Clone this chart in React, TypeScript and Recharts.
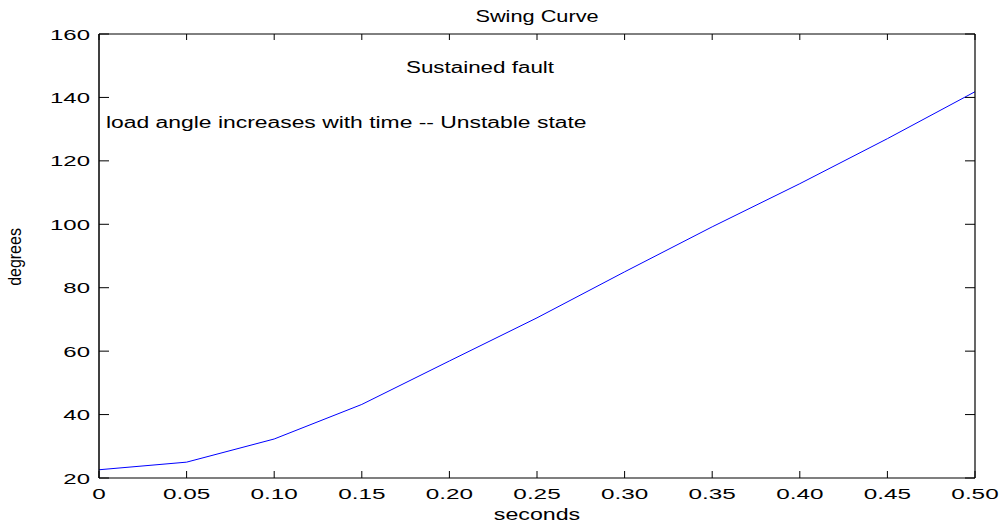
import React from 'react';
import { LineChart, Line, XAxis, YAxis } from 'recharts';

// time (s) and load angle (deg)
const seconds = [0, 0.05, 0.1, 0.15, 0.2, 0.25, 0.3, 0.35, 0.4, 0.45, 0.5];
const degrees = [22.6, 25.0, 32.3, 43.2, 56.9, 70.5, 85.0, 99.2, 112.8, 127.0, 141.8];

const xTicks = [0, 0.05, 0.1, 0.15, 0.2, 0.25, 0.3, 0.35, 0.4, 0.45, 0.5];
const xTickLabels = ['0', '0.05', '0.10', '0.15', '0.20', '0.25', '0.30', '0.35', '0.40', '0.45', '0.50'];
const yTicks = [20, 40, 60, 80, 100, 120, 140, 160];

const data = seconds.map((t, i) => ({ t, deg: degrees[i] }));

const FONT = '"Liberation Sans", Arial, Helvetica, sans-serif';

const xLabel = (v: number) => {
  const i = xTicks.indexOf(v);
  return i >= 0 ? xTickLabels[i] : String(v);
};

const BottomTick = (props: any) => {
  const { x, y, payload } = props;
  return (
    <g>
      <line x1={x} x2={x} y1={y} y2={y - 7} stroke="#000" strokeWidth={1} />
      <text
        transform={`translate(${x},${y + 21}) scale(1.62,1)`}
        textAnchor="middle"
        fontSize={15}
        fontFamily={FONT}
        fill="#000"
      >
        {xLabel(payload.value)}
      </text>
    </g>
  );
};

const TopTick = (props: any) => {
  const { x, y } = props;
  return <line x1={x} x2={x} y1={y} y2={y + 6} stroke="#000" strokeWidth={1} />;
};

const LeftTick = (props: any) => {
  const { x, y, payload } = props;
  return (
    <g>
      <line x1={x} x2={x + 10} y1={y} y2={y} stroke="#000" strokeWidth={1} />
      <text
        transform={`translate(${x - 9},${y + 5.5}) scale(1.6,1)`}
        textAnchor="end"
        fontSize={15}
        fontFamily={FONT}
        fill="#000"
      >
        {payload.value}
      </text>
    </g>
  );
};

const RightTick = (props: any) => {
  const { x, y } = props;
  return <line x1={x} x2={x - 10} y1={y} y2={y} stroke="#000" strokeWidth={1} />;
};

const txt = (s: string, x: number, y: number, sx: number, extra = '') => (
  <text
    transform={`translate(${x},${y}) scale(${sx},1)${extra}`}
    textAnchor="middle"
    fontSize={16}
    fontFamily={FONT}
    fill="#000"
  >
    {s}
  </text>
);

export default function App() {
  return (
    <div style={{ position: 'absolute', left: 0, top: 0, width: 1004, height: 528, background: '#fff' }}>
      <LineChart width={1004} height={528} data={data} margin={{ top: 0, right: 0, bottom: 0, left: 0 }}>
        <XAxis
          dataKey="t"
          type="number"
          domain={[0, 0.5]}
          ticks={xTicks}
          interval={0}
          height={50}
          tickSize={0}
          tickMargin={0}
          tickLine={false}
          axisLine={{ stroke: '#000', strokeWidth: 1.2 }}
          tick={<BottomTick />}
          allowDataOverflow
        />
        <XAxis
          xAxisId="top"
          orientation="top"
          dataKey="t"
          type="number"
          domain={[0, 0.5]}
          ticks={xTicks}
          interval={0}
          height={34}
          tickSize={0}
          tickMargin={0}
          tickLine={false}
          axisLine={{ stroke: '#000', strokeWidth: 1 }}
          tick={<TopTick />}
          allowDataOverflow
        />
        <YAxis
          type="number"
          domain={[20, 160]}
          ticks={yTicks}
          interval={0}
          width={99}
          tickSize={0}
          tickMargin={0}
          tickLine={false}
          axisLine={{ stroke: '#000', strokeWidth: 1.5 }}
          tick={<LeftTick />}
          allowDataOverflow
        />
        <YAxis
          yAxisId="right"
          orientation="right"
          type="number"
          domain={[20, 160]}
          ticks={yTicks}
          interval={0}
          width={29}
          tickSize={0}
          tickMargin={0}
          tickLine={false}
          axisLine={{ stroke: '#000', strokeWidth: 1.2 }}
          tick={<RightTick />}
          allowDataOverflow
        />
        <Line
          type="linear"
          dataKey="deg"
          stroke="#0000ff"
          strokeWidth={1}
          dot={false}
          activeDot={false}
          isAnimationActive={false}
        />
      </LineChart>
      <svg
        width={1004}
        height={528}
        style={{ position: 'absolute', left: 0, top: 0, pointerEvents: 'none' }}
      >
        {txt('Swing Curve', 537, 22, 1.36)}
        {txt('Sustained fault', 480, 72.5, 1.4)}
        <text
          transform="translate(106,127.5) scale(1.43,1)"
          textAnchor="start"
          fontSize={16}
          fontFamily={FONT}
          fill="#000"
        >
          load angle increases with time -- Unstable state
        </text>
        {txt('seconds', 537, 520, 1.45)}
        {txt('degrees', 21, 257, 1.12, ' rotate(-90)')}
      </svg>
    </div>
  );
}
